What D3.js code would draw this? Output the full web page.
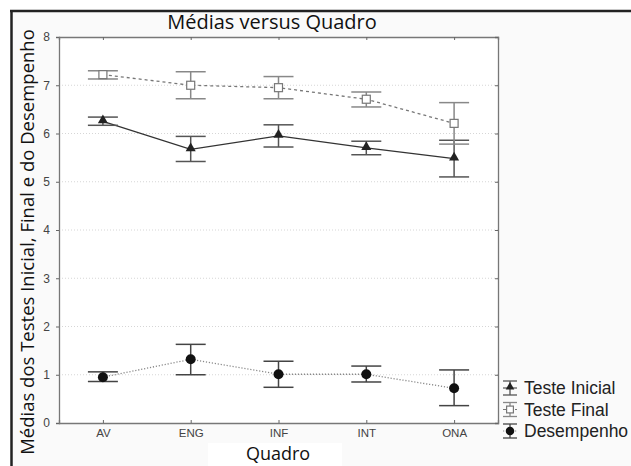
<!DOCTYPE html>
<html>
<head>
<meta charset="utf-8">
<script src="https://cdn.jsdelivr.net/npm/d3@7"></script>
<style>
  body { margin: 0; background: #fff; }
  svg { display: block; }
</style>
</head>
<body>
<div id="chart"></div>
<script>
// data
const quadros = ["AV", "ENG", "INF", "INT", "ONA"];
const yTicks = [0, 1, 2, 3, 4, 5, 6, 7, 8];

const inicialMean = [6.25, 5.67, 5.95, 5.70, 5.48];
const inicialHi   = [6.34, 5.94, 6.18, 5.84, 5.86];
const inicialLo   = [6.17, 5.42, 5.72, 5.56, 5.10];

const finalMean = [7.22, 7.00, 6.95, 6.71, 6.21];
const finalHi   = [7.30, 7.28, 7.18, 6.86, 6.64];
const finalLo   = [7.13, 6.72, 6.72, 6.55, 5.78];

const desempMean = [0.95, 1.32, 1.01, 1.01, 0.72];
const desempHi   = [1.06, 1.63, 1.28, 1.18, 1.10];
const desempLo   = [0.86, 1.00, 0.74, 0.85, 0.36];

const width = 631, height = 466;
const margin = { top: 37, right: 133, bottom: 43, left: 59 };
const w = width - margin.left - margin.right;
const h = height - margin.top - margin.bottom;

const svg = d3.select("#chart").append("svg")
    .attr("width", width)
    .attr("height", height);

// outer panel
svg.append("rect").attr("x", 11).attr("y", 11).attr("width", width - 11).attr("height", height - 11)
    .attr("fill", "#fafafa");
svg.append("line").attr("x1", 10).attr("x2", width).attr("y1", 11).attr("y2", 11)
    .attr("stroke", "#222").attr("stroke-width", 2.5);
svg.append("line").attr("x1", 11.5).attr("x2", 11.5).attr("y1", 10).attr("y2", height)
    .attr("stroke", "#222").attr("stroke-width", 2.5);

const g = svg.append("g").attr("transform", `translate(${margin.left},${margin.top})`);

const x = d3.scalePoint().domain(quadros).range([0, w]).padding(0.5);
const y = d3.scaleLinear().domain([0, 8]).range([h, 0]);

g.append("rect").attr("width", w).attr("height", h).attr("fill", "#fff");

// grid
g.selectAll(".grid").data(yTicks.slice(1, -1)).enter().append("line")
    .attr("x1", 0).attr("x2", w)
    .attr("y1", d => y(d)).attr("y2", d => y(d))
    .attr("stroke", "#ccc").attr("stroke-width", 0.8).attr("stroke-dasharray", "1,2");

// axes
g.append("g").call(d3.axisLeft(y).tickValues(yTicks).tickSize(3).tickPadding(6));
const xAxis = g.append("g").attr("transform", `translate(0,${h})`)
    .call(d3.axisBottom(x).tickSize(-3).tickPadding(6));
g.append("g").call(d3.axisTop(x).tickSize(-3).tickFormat(""));
g.append("g").attr("transform", `translate(${w},0)`)
    .call(d3.axisRight(y).tickValues(yTicks).tickSize(-3).tickFormat(""));

g.selectAll(".domain").attr("stroke", "#777").attr("stroke-width", 1.3);
g.selectAll(".tick line").attr("stroke", "#666");
g.selectAll(".tick text").attr("fill", "#444")
    .style("font-family", "'Liberation Sans', Arial, sans-serif").style("font-size", "12px");
xAxis.selectAll(".tick text").style("font-size", "11.5px");

// series
const series = [
  { name: "Teste Inicial", mean: inicialMean, hi: inicialHi, lo: inicialLo,
    line: "#333", dash: null, bar: "#555", marker: "tri" },
  { name: "Teste Final", mean: finalMean, hi: finalHi, lo: finalLo,
    line: "#777", dash: "3,3", bar: "#888", marker: "sq" },
  { name: "Desempenho", mean: desempMean, hi: desempHi, lo: desempLo,
    line: "#888", dash: "1.2,1.8", bar: "#444", marker: "dot" }
];

const capW = 15;

function drawMarker(sel, type, cx, cy, scale) {
  const s = scale || 1;
  if (type === "tri") {
    sel.append("path").attr("d", d3.symbol(d3.symbolTriangle, 44 * s * s)())
      .attr("transform", `translate(${cx},${cy - 1})`).attr("fill", "#222");
  } else if (type === "sq") {
    sel.append("rect").attr("x", cx - 4 * s).attr("y", cy - 4 * s)
      .attr("width", 8 * s).attr("height", 8 * s)
      .attr("fill", "#fff").attr("stroke", "#777").attr("stroke-width", 1.2);
  } else {
    sel.append("circle").attr("cx", cx).attr("cy", cy).attr("r", 5 * s).attr("fill", "#111");
  }
}

series.forEach(s => {
  const pts = quadros.map((q, i) => ({ q, m: s.mean[i], hi: s.hi[i], lo: s.lo[i] }));
  const sg = g.append("g");

  sg.append("path").datum(pts)
    .attr("d", d3.line().x(d => x(d.q)).y(d => y(d.m)))
    .attr("fill", "none").attr("stroke", s.line).attr("stroke-width", 1.3)
    .attr("stroke-dasharray", s.dash);

  pts.forEach(d => {
    const cx = x(d.q);
    sg.append("line").attr("x1", cx).attr("x2", cx).attr("y1", y(d.hi)).attr("y2", y(d.lo))
      .attr("stroke", s.bar).attr("stroke-width", 1.5);
    [d.hi, d.lo].forEach(v => {
      sg.append("line").attr("x1", cx - capW).attr("x2", cx + capW).attr("y1", y(v)).attr("y2", y(v))
        .attr("stroke", s.bar).attr("stroke-width", 1.5);
    });
    drawMarker(sg, s.marker, cx, y(d.m));
  });
});

// title and axis labels
const fontTitle = "'Open Sans', 'Noto Sans', sans-serif";
svg.append("text").attr("x", 272).attr("y", 29).attr("text-anchor", "middle")
    .style("font-family", fontTitle).style("font-size", "20px").attr("fill", "#111")
    .text("Médias versus Quadro");

svg.append("rect").attr("x", 208).attr("y", 443).attr("width", 134).attr("height", 23).attr("fill", "#fff");
svg.append("text").attr("x", 278).attr("y", 460).attr("text-anchor", "middle")
    .style("font-family", fontTitle).style("font-size", "18px").attr("fill", "#111")
    .text("Quadro");

svg.append("text").attr("transform", "translate(34,242) rotate(-90)").attr("text-anchor", "middle")
    .style("font-family", fontTitle).style("font-size", "18.5px").attr("fill", "#111")
    .text("Médias dos Testes Inicial, Final e do Desempenho");

// legend
const legend = svg.append("g").attr("transform", "translate(510,388)");
series.forEach((s, i) => {
  const lg = legend.append("g").attr("transform", `translate(0,${i * 21.5})`);
  lg.append("line").attr("x1", 0).attr("x2", 0).attr("y1", -7).attr("y2", 7)
    .attr("stroke", s.bar).attr("stroke-width", 1.3);
  [-7, 7].forEach(v => lg.append("line").attr("x1", -7).attr("x2", 7).attr("y1", v).attr("y2", v)
    .attr("stroke", s.bar).attr("stroke-width", 1.3));
  lg.append("line").attr("x1", -7).attr("x2", 7).attr("y1", 0).attr("y2", 0)
    .attr("stroke", s.line).attr("stroke-dasharray", s.dash);
  drawMarker(lg, s.marker, 0, 0, 0.85);
  lg.append("text").attr("x", 14).attr("y", 6)
    .style("font-family", "'Liberation Sans', Arial, sans-serif").style("font-size", "17.5px")
    .attr("fill", "#222").text(s.name);
});
</script>
</body>
</html>
